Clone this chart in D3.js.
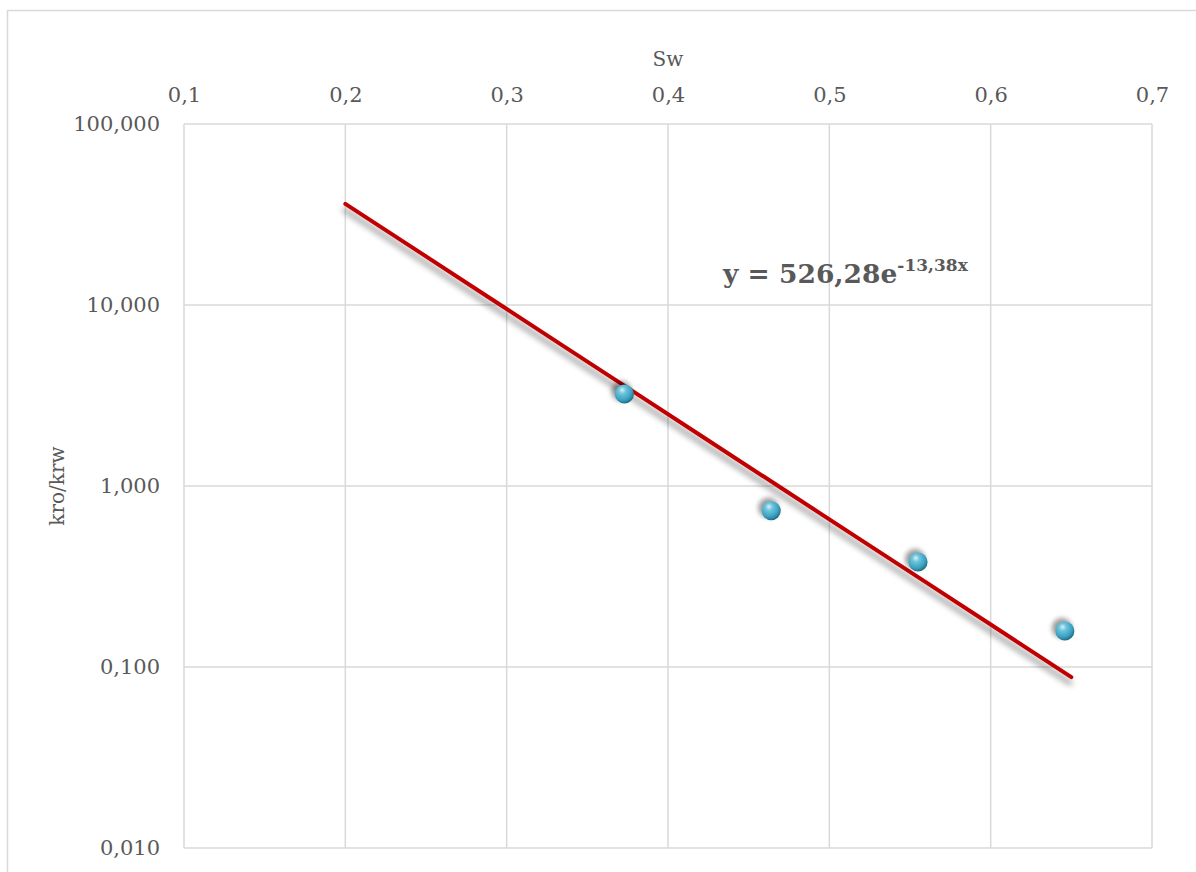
<!DOCTYPE html>
<html>
<head>
<meta charset="utf-8">
<script src="https://cdn.jsdelivr.net/npm/d3@7/dist/d3.min.js"></script>
<style>
  html, body { margin: 0; padding: 0; background: #fff; }
  svg { display: block; }
  text { font-family: "DejaVu Serif", "Liberation Serif", serif; fill: #595959; }
</style>
</head>
<body>
<svg id="chart" width="1196" height="872"></svg>
<script>
// Measured water saturation and permeability ratio
const swValues = [0.373, 0.464, 0.555, 0.646];
const ratioValues = [3.22, 0.73, 0.38, 0.158];

// Axis ticks
const xTicks = [0.1, 0.2, 0.3, 0.4, 0.5, 0.6, 0.7];
const yTicks = [0.01, 0.1, 1, 10, 100];

// Exponential trendline y = a * e^(b x)
const trendA = 526.28;
const trendB = -13.38;
const trendRange = [0.2, 0.65];

const xTitle = "Sw";
const yTitle = "kro/krw";

const svg = d3.select("#chart");
const W = 1196, H = 872;
const plot = { left: 184, right: 1152, top: 124, bottom: 848 };

const x = d3.scaleLinear().domain([0.1, 0.7]).range([plot.left, plot.right]);
const y = d3.scaleLog().domain([0.01, 100]).range([plot.bottom, plot.top]);

const comma = s => s.replace(".", ",");
const fmtX = v => comma(d3.format(".1f")(v));
const fmtY = v => comma(d3.format(".3f")(v));

const defs = svg.append("defs");

// soft shadow under the trendline
const lineShadow = defs.append("filter").attr("id", "lineShadow")
  .attr("x", "-10%").attr("y", "-10%").attr("width", "120%").attr("height", "130%");
lineShadow.append("feGaussianBlur").attr("in", "SourceAlpha").attr("stdDeviation", 3).attr("result", "b");
lineShadow.append("feOffset").attr("in", "b").attr("dx", -1).attr("dy", 6).attr("result", "o");
lineShadow.append("feComponentTransfer").attr("in", "o").attr("result", "s")
  .append("feFuncA").attr("type", "linear").attr("slope", 0.45);
const lm = lineShadow.append("feMerge");
lm.append("feMergeNode").attr("in", "s");
lm.append("feMergeNode").attr("in", "SourceGraphic");

// blurred halo behind the markers
defs.append("filter").attr("id", "dotShadow")
  .attr("x", "-100%").attr("y", "-100%").attr("width", "300%").attr("height", "300%")
  .append("feGaussianBlur").attr("stdDeviation", 2.5);

// glossy sphere shading
const grad = defs.append("radialGradient").attr("id", "sphere")
  .attr("cx", "40%").attr("cy", "35%").attr("r", "65%").attr("fx", "38%").attr("fy", "28%");
grad.append("stop").attr("offset", "0%").attr("stop-color", "#d4f1fa");
grad.append("stop").attr("offset", "30%").attr("stop-color", "#6cc4dc");
grad.append("stop").attr("offset", "75%").attr("stop-color", "#3aa0bf");
grad.append("stop").attr("offset", "100%").attr("stop-color", "#1f6f88");

// background and chart frame
svg.append("rect").attr("width", W).attr("height", H).attr("fill", "#fff");
svg.append("rect").attr("x", 7.5).attr("y", 10.5).attr("width", W + 20).attr("height", H + 20)
  .attr("fill", "none").attr("stroke", "#d9d9d9").attr("stroke-width", 1.5);

// gridlines
const grid = svg.append("g").attr("stroke", "#d9d9d9").attr("stroke-width", 1.5);
grid.selectAll(".gx").data(xTicks).join("line")
  .attr("x1", d => x(d)).attr("x2", d => x(d))
  .attr("y1", plot.top).attr("y2", plot.bottom);
grid.selectAll(".gy").data(yTicks).join("line")
  .attr("x1", plot.left).attr("x2", plot.right)
  .attr("y1", d => y(d)).attr("y2", d => y(d));

// top x axis labels
const xAxis = d3.axisTop(x).tickValues(xTicks).tickFormat(fmtX).tickSize(0).tickPadding(22);
const gx = svg.append("g").attr("transform", `translate(0,${plot.top})`).call(xAxis);
gx.select(".domain").remove();
gx.selectAll("text").attr("font-size", 21).attr("fill", "#595959")
  .attr("font-family", "DejaVu Serif");

// left y axis labels
const yAxis = d3.axisLeft(y).tickValues(yTicks).tickFormat(fmtY).tickSize(0).tickPadding(24);
const gy = svg.append("g").attr("transform", `translate(${plot.left},0)`).call(yAxis);
gy.select(".domain").remove();
gy.selectAll("text").attr("font-size", 21).attr("fill", "#595959")
  .attr("font-family", "DejaVu Serif");

// axis titles
svg.append("text").attr("x", x(0.4)).attr("y", 66).attr("text-anchor", "middle")
  .attr("font-size", 20).text(xTitle);
svg.append("text").attr("transform", `translate(64,${y(1)}) rotate(-90)`)
  .attr("text-anchor", "middle").attr("font-size", 20).text(yTitle);

// trendline
const trendX = d3.range(0, 11).map(i => trendRange[0] + (trendRange[1] - trendRange[0]) * i / 10);
const trendPts = trendX.map(v => [v, trendA * Math.exp(trendB * v)]);
svg.append("path").datum(trendPts)
  .attr("d", d3.line().x(d => x(d[0])).y(d => y(d[1])))
  .attr("fill", "none").attr("stroke", "#c00000").attr("stroke-width", 4)
  .attr("stroke-linecap", "round").attr("filter", "url(#lineShadow)");

// markers
const pts = swValues.map((v, i) => ({ x: v, y: ratioValues[i] }));
svg.append("g").selectAll("circle").data(pts).join("circle")
  .attr("cx", d => x(d.x) - 3).attr("cy", d => y(d.y) - 3).attr("r", 10)
  .attr("fill", "#000").attr("opacity", 0.4).attr("filter", "url(#dotShadow)");
svg.append("g").selectAll("circle").data(pts).join("circle")
  .attr("cx", d => x(d.x)).attr("cy", d => y(d.y)).attr("r", 9.5)
  .attr("fill", "url(#sphere)");

// trendline equation
const eq = svg.append("text").attr("x", 723).attr("y", 283)
  .attr("font-size", 26.5).attr("font-weight", "bold").attr("fill", "#595959");
eq.append("tspan").text("y = " + comma(String(trendA)) + "e");
eq.append("tspan").attr("dy", -12).attr("font-size", 17).text(comma(String(trendB)) + "x");
</script>
</body>
</html>
